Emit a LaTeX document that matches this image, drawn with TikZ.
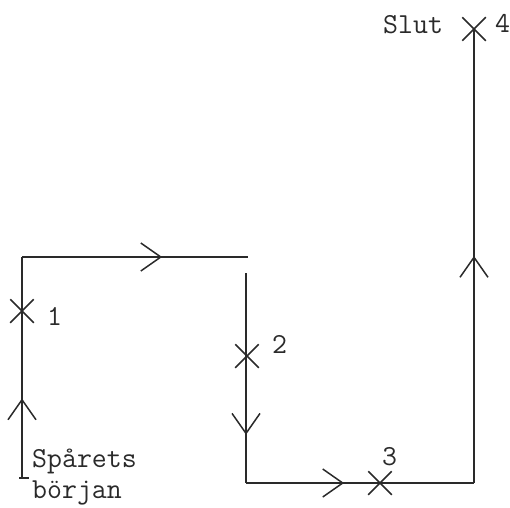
\documentclass[tikz,border=0pt]{standalone}
\usepackage{fontspec}
\usepackage{xcolor}
\usepackage{tikz}
\usetikzlibrary{positioning,shapes.misc,decorations.markings,arrows.meta}
\definecolor{ink}{HTML}{2a2a2a}

\begin{document}
\begin{tikzpicture}[x=1pt, y=-1pt,
  track/.style={line width=1.6pt, draw=ink},
  midarrow/.style={postaction={decorate}, decoration={markings,
    mark=at position #1 with {\arrow[ink]{Straight Barb[length=20pt, width=28pt, line width=1.5pt]}}}},
  stopmark/.style={cross out, draw=ink, line width=1.5pt, minimum size=22pt, inner sep=0pt},
  txt/.style={font=\fontsize{29}{31}\selectfont\ttfamily, text=ink, inner sep=0pt, anchor=base west}
]
\useasboundingbox (0,0) rectangle (510,507);

% corners of the track
\coordinate (start) at (22,478);
\coordinate (c1) at (22,257);
\coordinate (c2) at (248,257);
\coordinate (c3) at (246,273);
\coordinate (c4) at (246,483);
\coordinate (c5) at (474,483);
\coordinate (stop) at (474,29);

\draw[track, midarrow=0.36] (start) -- (c1);
\draw[track, midarrow=0.62] (c1) -- (c2);
\draw[track, midarrow=0.77] (c3) -- (c4);
\draw[track, midarrow=0.43] (c4) -- (c5);
\draw[track, midarrow=0.50] (c5) -- (stop);
\draw[track] ([xshift=-3pt]start) -- ([xshift=7pt]start);

\node[stopmark] (p1) at (22,311) {};
\node[stopmark] (p2) at (247,356) {};
\node[stopmark] (p3) at (380,483) {};
\node[stopmark] (p4) at (474,29) {};

\node[txt] (n1) at (47,325) {1};
\node[txt] (n2) at (272,353) {2};
\node[txt] (n3) at (382,465) {3};
\node[txt] (n4) at (495,32) {4};
\node[txt] (slut) at (383,33) {Slut};
\node[txt] (begin1) at (32,467) {Spårets};
\node[txt] (begin2) at (32,498) {början};

\end{tikzpicture}
\end{document}
